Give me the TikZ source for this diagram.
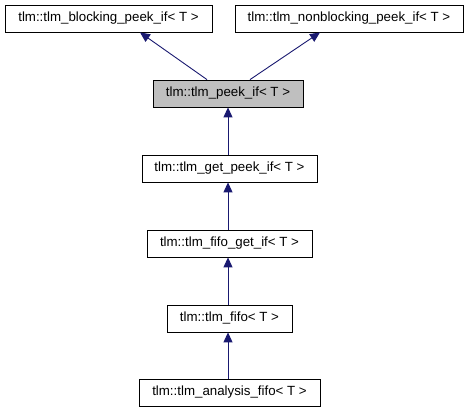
\documentclass[tikz,border=0pt]{standalone}
\usepackage{fontspec}
\setmainfont{Liberation Sans}
\usetikzlibrary{arrows.meta,calc}
\definecolor{edgeblue}{HTML}{191970}
\definecolor{boxgray}{HTML}{BFBFBF}
\begin{document}
\begin{tikzpicture}[x=1pt,y=-1pt,
		cls/.style={draw=black,line width=0.8pt,minimum height=27pt,inner sep=0pt,font=\fontsize{13.3}{15}\selectfont},
		inherit/.style={draw=edgeblue,line width=0.9pt,-{Triangle[length=10pt,width=9pt]},fill=none}]
			\useasboundingbox (0,0) rectangle (467,411);
			\node[cls,minimum width=207pt] (blocking) at (108.5,18.5) {tlm::tlm\_blocking\_peek\_if< T >};
			\node[cls,minimum width=228pt] (nonblocking) at (349,18.5) {tlm::tlm\_nonblocking\_peek\_if< T >};
			\node[cls,minimum width=150pt,fill=boxgray] (peek) at (228,93.5) {tlm::tlm\_peek\_if< T >};
			\node[cls,minimum width=175pt] (getpeek) at (229.5,168.5) {tlm::tlm\_get\_peek\_if< T >};
			\node[cls,minimum width=165pt] (fifogetif) at (229.5,243.5) {tlm::tlm\_fifo\_get\_if< T >};
			\node[cls,minimum width=125pt] (fifo) at (229.5,318.5) {tlm::tlm\_fifo< T >};
			\node[cls,minimum width=181pt] (analysis) at (229.5,392.5) {tlm::tlm\_analysis\_fifo< T >};
			\path[inherit] ($(peek.north)+(-21,0)$) to ($(blocking.south)+(31.5,0)$);
			\path[inherit] ($(peek.north)+(22,0)$) to ($(nonblocking.south)+(-29,0)$);
			\path[inherit] (getpeek.north -| peek.south) to (peek.south);
			\path[inherit] (fifogetif.north -| peek.south) to (getpeek.south -| peek.south);
			\path[inherit] (fifo.north -| peek.south) to (fifogetif.south -| peek.south);
			\path[inherit] (analysis.north -| peek.south) to (fifo.south -| peek.south);
		\end{tikzpicture}
\end{document}
